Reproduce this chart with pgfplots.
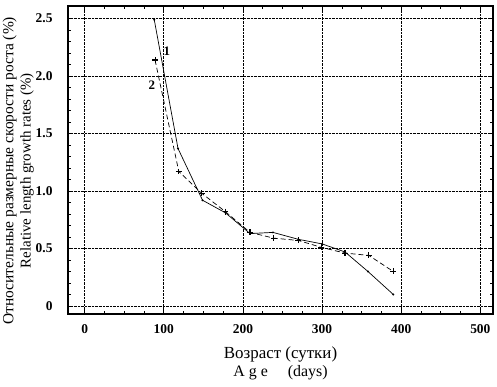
\documentclass[border=0pt]{standalone}
\usepackage{fontspec}
\setmainfont{Liberation Serif}
\usepackage{pgfplots}
\pgfplotsset{compat=1.18}
\begin{document}
\begin{tikzpicture}
\path[use as bounding box] (0,0) rectangle (497bp,387bp);
\begin{axis}[
  at={(68bp,73bp)}, anchor=south west,
  scale only axis, width=425bp, height=308bp,
  xmin=-21, xmax=516, ymin=-0.07, ymax=2.61,
  xtick={0,100,200,300,400,500},
  ytick={0,0.5,1.0,1.5,2.0,2.5},
  yticklabels={0,0.5,1.0,1.5,2.0,2.5},
  minor x tick num=3, minor y tick num=4,
  tick align=inside,
  major tick length=5bp, minor tick length=3bp,
  grid=major,
  major grid style={black, densely dotted, line width=0.6pt},
  axis line style={line width=1.2pt},
  every tick/.style={black, line width=0.6pt},
  /pgf/number format/assume math mode=true,
  tick label style={font=\fontsize{13.5}{15}\selectfont\bfseries},
  yticklabel style={xshift=-12bp},
  xticklabel style={yshift=-7bp},
  xlabel={{\fontsize{17}{18}\selectfont Возраст (сутки)}\\{\fontsize{16}{18}\selectfont A g e\quad\ (days)}},
  xlabel style={align=center, font=\fontsize{16}{18}\selectfont, yshift=-6bp},
  clip=false,
]
\addplot[black, line width=0.7pt, mark=*, mark size=0.6pt] coordinates {
 (88,2.49) (118,1.37) (149,0.92) (178,0.81) (209,0.63) (238,0.64)
 (270,0.58) (300,0.54) (329,0.47) (358,0.30) (390,0.10)};
\addplot[black, line width=0.7pt, dash pattern=on 5pt off 3pt, mark=+, mark size=3pt,
  mark options={solid, line width=1.1pt}] coordinates {
 (89,2.14) (119,1.17) (148,0.98) (178,0.82) (209,0.64) (239,0.59)
 (270,0.57) (299,0.51) (329,0.46) (359,0.44) (390,0.30)};
\node[font=\fontsize{13}{14}\selectfont\bfseries] at (axis cs:104,2.22) {1};
\node[font=\fontsize{13}{14}\selectfont\bfseries] at (axis cs:85,1.92) {2};
\node[rotate=90, align=center, font=\fontsize{15}{17.5}\selectfont] at (rel axis cs:-0.117,0.465)
  {{\fontsize{15.5}{17.5}\selectfont Относительные размерные скорости роста (\%)}\\{\fontsize{15}{17.5}\selectfont Relative length growth rates (\%)}};
\end{axis}
\end{tikzpicture}
\end{document}
